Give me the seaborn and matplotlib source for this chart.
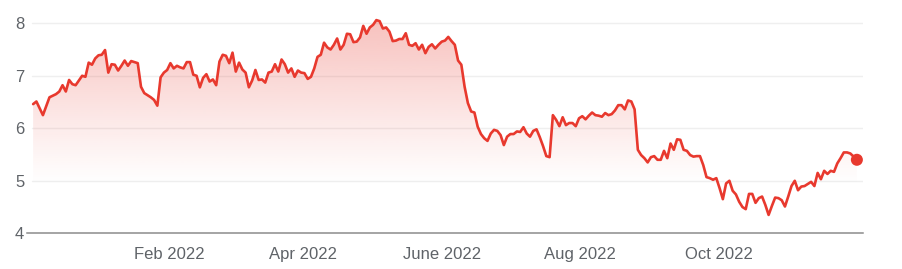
import numpy as np
import pandas as pd
import matplotlib
matplotlib.use("Agg")
import matplotlib.pyplot as plt
import matplotlib.dates as mdates
import seaborn as sns

# ---- data ----
start_date = "2021-12-03"
end_date = "2022-12-01"

seg_dec_jan = [6.46, 6.51, 6.38, 6.25, 6.42, 6.59, 6.62, 6.65, 6.70, 6.82,
               6.70, 6.92, 6.84, 6.82, 6.91, 7.00, 6.98, 7.25, 7.21, 7.33,
               7.39, 7.40, 7.49, 7.06, 7.22, 7.21, 7.10, 7.19, 7.29, 7.19,
               7.28, 7.26, 7.24, 6.79, 6.67, 6.63, 6.59, 6.54, 6.43, 6.97]
seg_feb_mar = [7.06, 7.11, 7.24, 7.14, 7.19, 7.16, 7.14, 7.26, 7.26, 7.02,
               7.00, 6.78, 6.96, 7.03, 6.89, 6.93, 6.82, 7.27, 7.40, 7.38,
               7.24, 7.44, 7.08, 7.25, 7.12, 7.06, 6.78, 6.91, 7.11, 6.92,
               6.93, 6.87, 7.06, 7.08, 7.22, 7.08, 7.31, 7.22, 7.06, 7.14,
               6.98, 7.10, 7.06, 7.05]
seg_apr_may = [6.94, 6.98, 7.14, 7.36, 7.40, 7.63, 7.54, 7.50, 7.59, 7.71,
               7.50, 7.59, 7.80, 7.79, 7.64, 7.65, 7.73, 7.95, 7.80, 7.92,
               7.97, 8.06, 8.04, 7.90, 7.92, 7.84, 7.66, 7.67, 7.70, 7.70,
               7.81, 7.59, 7.57, 7.62, 7.50, 7.59, 7.43, 7.55, 7.60, 7.52,
               7.59, 7.65, 7.67, 7.74, 7.66]
seg_jun_jul = [7.59, 7.29, 7.21, 6.79, 6.48, 6.32, 6.30, 6.03, 5.89, 5.81,
               5.76, 5.90, 5.97, 5.95, 5.87, 5.68, 5.84, 5.89, 5.89, 5.94,
               5.93, 6.02, 5.90, 5.84, 5.95, 5.98, 5.83, 5.66, 5.47, 5.45,
               6.25, 6.16, 6.04, 6.21, 6.06, 6.10, 6.10, 6.04]
seg_aug_sep = [6.19, 6.23, 6.17, 6.24, 6.30, 6.25, 6.24, 6.22, 6.29, 6.25,
               6.27, 6.34, 6.44, 6.44, 6.36, 6.53, 6.51, 6.36, 5.59, 5.49,
               5.43, 5.35, 5.45, 5.47, 5.40, 5.40, 5.57, 5.43, 5.71, 5.59,
               5.79, 5.78, 5.59, 5.57, 5.49, 5.46, 5.47, 5.47, 5.30, 5.07,
               5.05, 5.02, 5.05, 4.86, 4.65]
seg_oct_nov = [4.95, 5.00, 4.81, 4.74, 4.60, 4.50, 4.46, 4.75, 4.75, 4.58,
               4.67, 4.70, 4.54, 4.35, 4.52, 4.68, 4.67, 4.63, 4.51, 4.70,
               4.90, 5.00, 4.82, 4.89, 4.90, 4.94, 4.98, 4.90, 5.15, 5.03,
               5.19, 5.13, 5.19, 5.17, 5.33, 5.43, 5.54, 5.54, 5.52, 5.46,
               5.40]

y_ticks = [4, 5, 6, 7, 8]
x_tick_dates = ["2022-02-01", "2022-04-01", "2022-06-01", "2022-08-01", "2022-10-01"]
x_tick_labels = ["Feb 2022", "Apr 2022", "June 2022", "Aug 2022", "Oct 2022"]

values = (seg_dec_jan + seg_feb_mar + seg_apr_may + seg_jun_jul
          + seg_aug_sep + seg_oct_nov)
dates = pd.date_range(start_date, end_date, periods=len(values))
df = pd.DataFrame({"date": dates, "price": values})

# ---- style ----
sns.set_theme(style="white")
plt.rcParams["font.family"] = ["Liberation Sans", "DejaVu Sans"]

RED = "#e8392e"
GRID = "#efefef"
TEXT = "#5f6368"
AXIS = "#8c8c8c"

fig = plt.figure(figsize=(9.03, 2.69), dpi=100)
ax = fig.add_axes([27 / 903, 1 - 233.3 / 269, (863 - 27) / 903, (233.3 - 7.5) / 269])

sns.lineplot(data=df, x="date", y="price", ax=ax, color=RED, linewidth=1.9,
             zorder=4)

# gradient fill under the line
ymin, ymax = 4.0, 8.3
poly = ax.fill_between(df["date"], df["price"], ymin, color="none", lw=0)
xnum = mdates.date2num(df["date"])
n = 400
yy = np.linspace(ymin, ymax, n)
alpha = 0.32 * np.clip((yy - 4.9) / (8.1 - 4.9), 0, 1) ** 1.1
rgba = np.zeros((n, 1, 4))
rgba[..., 0] = 0xE8 / 255
rgba[..., 1] = 0x39 / 255
rgba[..., 2] = 0x2E / 255
rgba[:, 0, 3] = alpha
im = ax.imshow(rgba, extent=[xnum.min(), xnum.max(), ymin, ymax],
               origin="lower", aspect="auto", zorder=2, interpolation="bilinear")
im.set_clip_path(poly.get_paths()[0], transform=ax.transData)

# last point marker
sns.scatterplot(x=[df["date"].iloc[-1]], y=[df["price"].iloc[-1]], ax=ax,
                color=RED, s=75, edgecolor="none", zorder=5)

# axes
pad_days = pd.Timedelta(days=2.7)
ax.set_xlim(dates[0] - pad_days, dates[-1] + pad_days)
ax.set_ylim(ymin, ymax)
ax.set_yticks(y_ticks)
ax.set_yticklabels([str(t) for t in y_ticks])
ax.set_xticks(pd.to_datetime(x_tick_dates))
ax.set_xticklabels(x_tick_labels)
ax.set_xlabel("")
ax.set_ylabel("")

for t in y_ticks[1:]:
    ax.axhline(t, xmin=5 / 836, xmax=1.0, color=GRID, lw=1.0, zorder=1)

for s in ["top", "right", "left"]:
    ax.spines[s].set_visible(False)
ax.spines["bottom"].set_color(AXIS)
ax.spines["bottom"].set_linewidth(1.1)
ax.spines["bottom"].set_zorder(6)

ax.tick_params(axis="y", length=0, pad=2, labelsize=12, labelcolor=TEXT)
ax.tick_params(axis="x", length=7, width=1.0, color=AXIS, pad=3,
               labelsize=12, labelcolor=TEXT, direction="out")
ax.grid(False)
ax.set_facecolor("white")

fig.savefig("out.png", dpi=100, facecolor="white")
